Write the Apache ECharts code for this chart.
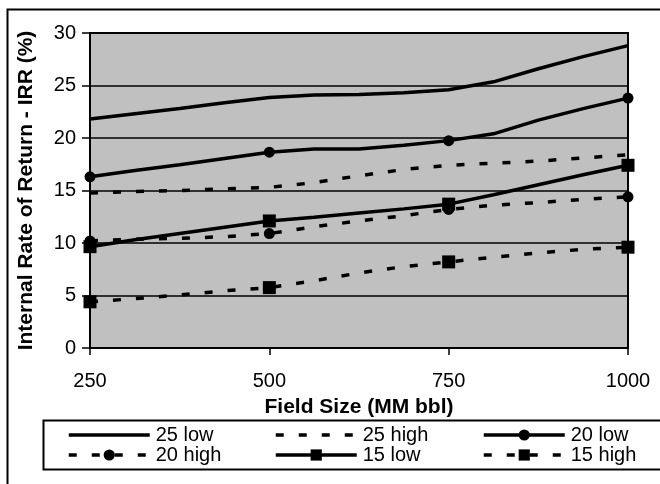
<!DOCTYPE html>
<html>
<head>
<meta charset="utf-8">
<script src="https://cdn.jsdelivr.net/npm/echarts@6/dist/echarts.min.js"></script>
<style>
  html, body { margin: 0; padding: 0; background: #fff; }
  #chart { width: 660px; height: 484px; }
</style>
</head>
<body>
<div id="chart"></div>
<script>
// field sizes (MM bbl), one point every 62.5
const fieldSizes = [250, 312.5, 375, 437.5, 500, 562.5, 625, 687.5, 750, 812.5, 875, 937.5, 1000];
// points that carry a marker
const markedSizes = [250, 500, 750, 1000];

// IRR (%)
const low25  = [21.8, 22.3, 22.8, 23.35, 23.85, 24.1, 24.15, 24.3, 24.6, 25.35, 26.6, 27.75, 28.8];
const high25 = [14.75, 14.9, 15.0, 15.15, 15.3, 15.75, 16.4, 17.0, 17.4, 17.6, 17.8, 18.1, 18.4];
const low20  = [16.3, 16.9, 17.45, 18.05, 18.65, 18.95, 18.95, 19.3, 19.75, 20.4, 21.7, 22.8, 23.8];
const high20 = [10.2, 10.35, 10.45, 10.6, 10.9, 11.55, 12.1, 12.6, 13.2, 13.6, 13.85, 14.15, 14.4];
const low15  = [9.65, 10.3, 10.9, 11.5, 12.1, 12.45, 12.85, 13.25, 13.7, 14.6, 15.55, 16.5, 17.4];
const high15 = [4.4, 4.7, 5.05, 5.45, 5.75, 6.4, 7.15, 7.75, 8.2, 8.65, 9.05, 9.4, 9.6];

const yTicks = [0, 5, 10, 15, 20, 25, 30];
const xTicks = [250, 500, 750, 1000];

const FONT = 'Liberation Sans, Arial, sans-serif';
const DASH = [8, 15];

function pairs(ys) {
  return fieldSizes.map((x, i) => [x, ys[i]]);
}

function makeSeries(name, ys, dashed, symbol, size) {
  return {
    name: name,
    type: 'line',
    data: pairs(ys),
    symbol: symbol || 'none',
    symbolSize: function (v) {
      return markedSizes.indexOf(v[0]) >= 0 ? size : 0;
    },
    showAllSymbol: true,
    itemStyle: { color: '#000' },
    lineStyle: {
      color: '#000',
      width: 3.5,
      type: dashed ? DASH : 'solid'
    },
    emphasis: { disabled: true },
    z: 3
  };
}

// lines without markers get an invisible legend marker
function legendItem(name, plain) {
  return plain ? { name: name, itemStyle: { color: 'rgba(0,0,0,0)', borderWidth: 0 } } : { name: name };
}

function legendCol(left, items) {
  return {
    orient: 'vertical',
    left: left,
    top: 425,
    padding: 0,
    itemGap: 0,
    itemWidth: 81,
    itemHeight: 14,
    data: items,
    selectedMode: false,
    lineStyle: { width: 3.5 },
    textStyle: {
      color: '#000',
      fontFamily: FONT,
      fontSize: 20,
      lineHeight: 19,
      padding: [0, 0, 0, 1]
    }
  };
}

const myChart = echarts.init(document.getElementById('chart'));
myChart.setOption({
  animation: false,
  backgroundColor: '#fff',
  grid: {
    left: 90,
    top: 33,
    right: 32,
    bottom: 136,
    show: true,
    backgroundColor: '#c0c0c0',
    borderColor: '#000',
    borderWidth: 2
  },
  xAxis: {
    type: 'value',
    min: xTicks[0],
    max: xTicks[xTicks.length - 1],
    interval: 250,
    name: 'Field Size (MM bbl)',
    nameLocation: 'middle',
    nameGap: 49,
    nameTextStyle: { color: '#000', fontFamily: FONT, fontSize: 21, fontWeight: 'bold' },
    axisLine: { show: true, lineStyle: { color: '#000', width: 2 } },
    axisTick: { show: true, length: 7, lineStyle: { color: '#000', width: 1.5 } },
    axisLabel: {
      color: '#000', fontFamily: FONT, fontSize: 20, margin: 23,
      formatter: function (v) { return String(v); }
    },
    splitLine: { show: false }
  },
  yAxis: {
    type: 'value',
    min: yTicks[0],
    max: yTicks[yTicks.length - 1],
    interval: 5,
    name: 'Internal Rate of Return - IRR (%)',
    nameLocation: 'middle',
    nameGap: 53,
    nameTextStyle: { color: '#000', fontFamily: FONT, fontSize: 21, fontWeight: 'bold' },
    axisLine: { show: true, lineStyle: { color: '#000', width: 2 } },
    axisTick: { show: true, length: 8, lineStyle: { color: '#000', width: 1.5 } },
    axisLabel: { color: '#000', fontFamily: FONT, fontSize: 20, margin: 14 },
    splitLine: { show: true, lineStyle: { color: '#000', width: 1.5 } }
  },
  legend: [
    legendCol(67, [legendItem('25 low', true), legendItem('20 high')]),
    legendCol(274, [legendItem('25 high', true), legendItem('15 low')]),
    legendCol(482, [legendItem('20 low'), legendItem('15 high')])
  ],
  graphic: [
    // outer chart frame (runs off the right and bottom)
    { type: 'rect', left: 5, top: 7, shape: { width: 700, height: 600 },
      style: { fill: 'none', stroke: '#000', lineWidth: 2 }, silent: true, z: -1 },
    // legend box
    { type: 'rect', left: 41, top: 418, shape: { width: 660, height: 49 },
      style: { fill: 'none', stroke: '#000', lineWidth: 2 }, silent: true }
  ],
  series: [
    makeSeries('25 low', low25, false),
    makeSeries('25 high', high25, true),
    makeSeries('20 low', low20, false, 'circle', 11),
    makeSeries('20 high', high20, true, 'circle', 11),
    makeSeries('15 low', low15, false, 'rect', 13),
    makeSeries('15 high', high15, true, 'rect', 13)
  ]
});
</script>
</body>
</html>
